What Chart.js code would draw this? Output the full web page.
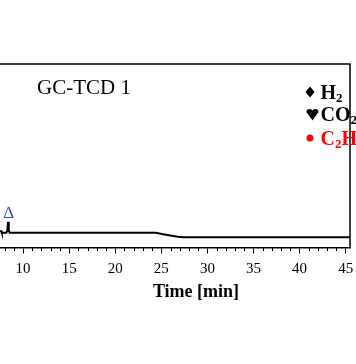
<!DOCTYPE html>
<html>
<head>
<meta charset="utf-8">
<script src="https://cdn.jsdelivr.net/npm/chart.js@4.4.1/dist/chart.umd.min.js"></script>
<style>
html,body{margin:0;padding:0;background:#fff;overflow:hidden;}
#wrap{position:relative;width:356px;height:364px;}
</style>
</head>
<body>
<div id="wrap"><canvas id="c" width="356" height="364"></canvas></div>
<script>
// Data
const timeMin = [7.5, 7.65, 7.7, 8.2, 8.3, 8.37, 8.45, 8.55, 12, 16, 20, 24.4, 25.2, 26.0, 26.8, 27.4, 30, 35, 40, 45.5];
const signal  = [8.9, 8.9, 8.0, 8.0, 9.3, 14.0, 9.3, 8.0, 8.0, 8.0, 8.0, 8.0, 7.2, 6.5, 5.9, 5.6, 5.6, 5.6, 5.6, 5.6];
const xRange = [7.5, 45.47];
const yRange = [0, 100];
const majorStep = 5;
const minorStep = 1;
const chartLabel = 'GC-TCD 1';
const xTitle = 'Time [min]';
const peakMarks = [{x: 8.45, y: 18.6, text: 'Δ', color: '#2f4bd6'}];
const legendItems = [
  {sym: 'diamond', parts: [['H',0],['2',1]], color: '#000'},
  {sym: 'heart',   parts: [['CO',0],['2',1]], color: '#000'},
  {sym: 'dot',     parts: [['C',0],['2',1],['H',0],['6',1]], color: '#ff0000'}
];

const serif = '"Liberation Serif", "Times New Roman", serif';

const deco = {
  id: 'deco',
  afterDraw(chart) {
    const ctx = chart.ctx, a = chart.chartArea, xs = chart.scales.x, ys = chart.scales.y;
    ctx.save();
    // frame top & right
    ctx.strokeStyle = '#000'; ctx.lineWidth = 1.5;
    ctx.beginPath();
    ctx.moveTo(0, a.top); ctx.lineTo(a.right, a.top); ctx.lineTo(a.right, a.bottom);
    ctx.stroke();
    // minor ticks
    ctx.lineWidth = 1;
    ctx.beginPath();
    for (let v = Math.ceil(xRange[0]); v <= xRange[1]; v += minorStep) {
      if (v % majorStep === 0) continue;
      const px = Math.round(xs.getPixelForValue(v)) + 0.5;
      ctx.moveTo(px, a.bottom); ctx.lineTo(px, a.bottom + 3.5);
    }
    ctx.stroke();
    // chart label
    ctx.fillStyle = '#000';
    ctx.font = '21px ' + serif;
    ctx.textBaseline = 'middle'; ctx.textAlign = 'left';
    ctx.fillText(chartLabel, 37, 88);
    // peak marks
    peakMarks.forEach(p => {
      ctx.fillStyle = p.color;
      ctx.font = '17px ' + serif;
      ctx.textAlign = 'center';
      ctx.fillText(p.text, xs.getPixelForValue(p.x), ys.getPixelForValue(p.y));
    });
    // x title
    ctx.fillStyle = '#000';
    ctx.font = 'bold 18px ' + serif;
    ctx.textAlign = 'center';
    ctx.fillText(xTitle, 196, 292);
    // legend
    const rows = [92, 114, 138];
    legendItems.forEach((it, i) => {
      const y = rows[i];
      ctx.fillStyle = it.color;
      if (it.sym === 'diamond') {
        const mx = 310;
        ctx.beginPath();
        ctx.moveTo(mx, y - 5.5); ctx.lineTo(mx + 4.5, y); ctx.lineTo(mx, y + 5.5); ctx.lineTo(mx - 4.5, y);
        ctx.closePath(); ctx.fill();
      } else if (it.sym === 'heart') {
        ctx.beginPath();
        const hx = 312.5, hy = y - 2;
        ctx.arc(hx - 2.9, hy, 3.1, Math.PI, 0);
        ctx.arc(hx + 2.9, hy, 3.1, Math.PI, 0);
        ctx.lineTo(hx, y + 6.5);
        ctx.closePath(); ctx.fill();
      } else {
        ctx.beginPath(); ctx.arc(310, y, 3.5, 0, Math.PI * 2); ctx.fill();
      }
      let x = 320.5;
      ctx.textAlign = 'left';
      it.parts.forEach(([t, sub]) => {
        ctx.font = 'bold ' + (sub ? 13 : 20) + 'px ' + serif;
        ctx.textBaseline = 'alphabetic';
        ctx.fillText(t, x, sub ? y + 10 : y + 7);
        x += ctx.measureText(t).width;
      });
    });
    ctx.restore();
  }
};

new Chart(document.getElementById('c'), {
  type: 'line',
  data: {
    datasets: [{
      data: timeMin.map((t, i) => ({x: t, y: signal[i]})),
      borderColor: '#000', borderWidth: 2, pointRadius: 0, tension: 0, fill: false
    }]
  },
  options: {
    responsive: false, animation: false, devicePixelRatio: 1,
    layout: {padding: {top: 64, left: 0, right: 6, bottom: 78.5}},
    plugins: {legend: {display: false}, tooltip: {enabled: false}, title: {display: false}},
    scales: {
      x: {
        type: 'linear', min: xRange[0], max: xRange[1],
        afterFit: s => { s.paddingLeft = 0; s.paddingRight = 0; },
        border: {display: true, color: '#000', width: 1.5},
        grid: {display: true, drawOnChartArea: false, tickLength: 6, tickWidth: 1,
               tickColor: c => (c.tick && c.tick.value % majorStep === 0) ? '#000' : 'rgba(0,0,0,0)'},
        ticks: {stepSize: majorStep, includeBounds: false, autoSkip: false, maxRotation: 0, padding: 7,
                color: '#000', font: {family: serif, size: 15},
                callback: v => (v % majorStep === 0 ? String(v) : '')}
      },
      y: {
        type: 'linear', min: yRange[0], max: yRange[1], display: false
      }
    }
  },
  plugins: [deco]
});
</script>
</body>
</html>
